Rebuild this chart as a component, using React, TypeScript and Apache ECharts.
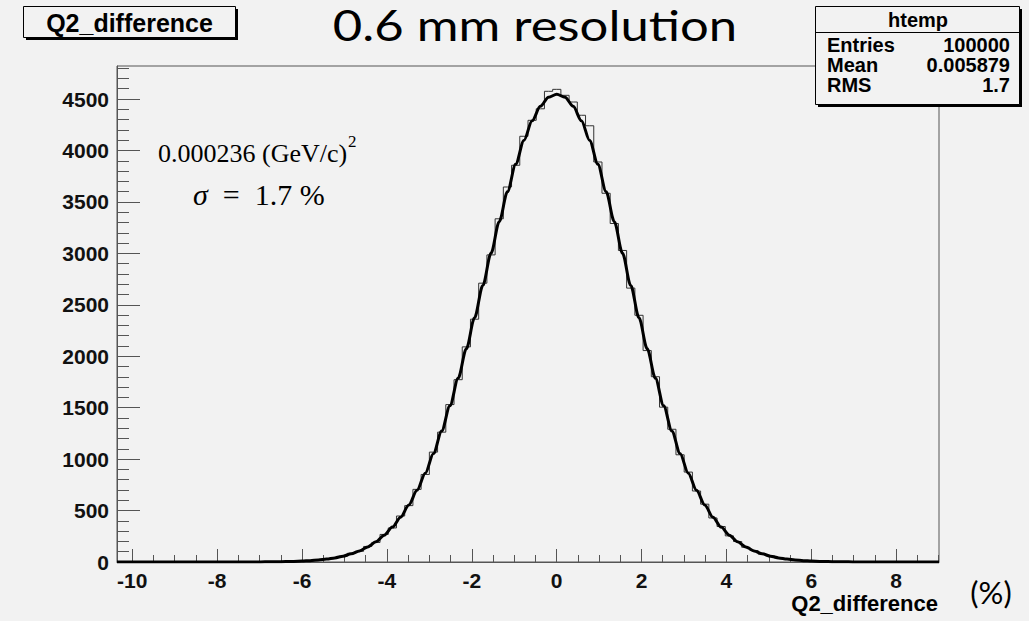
import React, { useEffect, useRef } from "react";
import * as echarts from "echarts";

// ---- data ----
const X_MIN = -10.36;
const X_MAX = 9.01;
const BIN_COUNT = 100;
const Y_MAX = 4821;

// histogram counts per bin (100 bins from X_MIN to X_MAX)
const histCounts = [
  0, 0, 0, 0, 0, 0, 0, 0, 0, 0, 0, 0, 0, 0, 0, 0, 0,
  0, 2, 1, 5, 7, 10, 12, 21, 26, 43,
  55, 84, 104, 151, 190, 268, 331, 447, 548, 706,
  851, 1068, 1262, 1530, 1772, 2091, 2360, 2710, 2985, 3336,
  3645, 3856, 4138, 4293, 4405, 4575,
  4594,
  4536, 4471, 4342, 4240, 3888, 3584, 3290, 3028, 2662, 2398,
  2055, 1801, 1505, 1290, 1042, 874, 690, 562, 428, 345,
  254, 199, 143, 111, 76, 59, 38, 29, 18, 14,
  8, 6, 3, 2, 1, 1,
  0, 0, 0, 0, 0, 0, 0, 0, 0, 0,
];

// fitted gaussian curve value at each bin centre
const fitValues = [
  0, 0, 0, 0, 0, 0, 0, 0, 0, 0, 0, 0, 0, 0, 0, 0, 0,
  1, 2, 3, 4, 6, 9, 13, 19, 28, 40,
  57, 79, 108, 147, 196, 260, 339, 436, 555, 697,
  863, 1055, 1274, 1518, 1785, 2073, 2375, 2687, 3001, 3308,
  3599, 3865, 4097, 4288, 4429, 4517,
  4546,
  4517, 4429, 4288, 4097, 3865, 3599, 3308, 3001, 2687, 2375,
  2073, 1785, 1518, 1274, 1055, 863, 697, 555, 436, 339,
  260, 196, 147, 108, 79, 57, 40, 28, 19, 13,
  9, 6, 4, 3, 2, 1,
  0, 0, 0, 0, 0, 0, 0, 0, 0, 0,
];

const xTickLabels = [-10, -8, -6, -4, -2, 0, 2, 4, 6, 8];
const xMinorTicks = [-9.5, -9, -8.5, -7.5, -7, -6.5, -5.5, -5, -4.5, -3.5, -3, -2.5, -1.5, -1, -0.5, 0.5, 1, 1.5, 2.5, 3, 3.5, 4.5, 5, 5.5, 6.5, 7, 7.5, 8.5, 9];
const yTickLabels = [0, 500, 1000, 1500, 2000, 2500, 3000, 3500, 4000, 4500];
const yMinorTicks = [100, 200, 300, 400, 600, 700, 800, 900, 1100, 1200, 1300, 1400, 1600, 1700, 1800, 1900, 2100, 2200, 2300, 2400, 2600, 2700, 2800, 2900, 3100, 3200, 3300, 3400, 3600, 3700, 3800, 3900, 4100, 4200, 4300, 4400, 4600, 4700, 4800];

const histTitle = "Q2_difference";
const statsTitle = "htemp";
const statsLabels = ["Entries", "Mean", "RMS"];
const statsValues = ["100000", "0.005879", "1.7"];
const headline = "0.6 mm resolution";
const noteLine1 = "0.000236 (GeV/c)";
const xAxisTitle = "Q2_difference";
const unitText = "(%)";

const SANS = "'Liberation Sans', Arial, sans-serif";
const SERIF = "'Liberation Serif', 'Times New Roman', serif";
const CAL = "Lato, 'Open Sans', sans-serif";
const BG = "#f2f2f2";
const AXIS = "#555555";

export default function App() {
  const ref = useRef<HTMLDivElement>(null);

  useEffect(() => {
    document.body.style.margin = "0";
    if (!ref.current) return;
    const chart = echarts.init(ref.current, null, { renderer: "svg" });

    const binWidth = (X_MAX - X_MIN) / BIN_COUNT;
    const centres = histCounts.map((_, i) => X_MIN + (i + 0.5) * binWidth);
    const histData = centres.map((x, i) => [x, histCounts[i]]);
    const fitData = [[X_MIN, 0], ...centres.map((x, i) => [x, fitValues[i]]), [X_MAX, 0]];

    const statsY = [45, 65, 85];

    chart.setOption({
      animation: false,
      backgroundColor: BG,
      grid: {
        left: 117,
        top: 66,
        right: 90,
        bottom: 59,
        show: true,
        borderColor: AXIS,
        borderWidth: 1,
        backgroundColor: "transparent",
      },
      xAxis: [
        {
          type: "value",
          position: "bottom",
          min: X_MIN,
          max: X_MAX,
          axisLine: { show: true, onZero: false, lineStyle: { color: AXIS, width: 1 } },
          axisTick: { show: true, inside: true, length: 13, customValues: xTickLabels, lineStyle: { color: AXIS } },
          axisLabel: {
            customValues: xTickLabels,
            formatter: (v: number) => String(v),
            fontFamily: SANS,
            fontWeight: "bold",
            fontSize: 21,
            color: "#111",
            margin: 8,
          },
          splitLine: { show: false },
        },
        {
          type: "value",
          position: "bottom",
          min: X_MIN,
          max: X_MAX,
          axisLine: { show: false, onZero: false },
          axisTick: { show: true, inside: true, length: 7, customValues: xMinorTicks, lineStyle: { color: AXIS } },
          axisLabel: { show: false },
          splitLine: { show: false },
        },
      ],
      yAxis: [
        {
          type: "value",
          position: "left",
          min: 0,
          max: Y_MAX,
          axisLine: { show: true, onZero: false, lineStyle: { color: AXIS, width: 1 } },
          axisTick: { show: true, inside: true, length: 23, customValues: yTickLabels, lineStyle: { color: AXIS } },
          axisLabel: {
            customValues: yTickLabels,
            formatter: (v: number) => String(v),
            fontFamily: SANS,
            fontWeight: "bold",
            fontSize: 21,
            color: "#111",
            margin: 8,
          },
          splitLine: { show: false },
        },
        {
          type: "value",
          position: "left",
          min: 0,
          max: Y_MAX,
          axisLine: { show: false, onZero: false },
          axisTick: { show: true, inside: true, length: 12, customValues: yMinorTicks, lineStyle: { color: AXIS } },
          axisLabel: { show: false },
          splitLine: { show: false },
        },
      ],
      series: [
        {
          name: "htemp",
          type: "line",
          xAxisIndex: 0,
          yAxisIndex: 0,
          step: "middle",
          data: histData,
          symbol: "none",
          lineStyle: { color: "#333", width: 1 },
          z: 2,
        },
        {
          name: "fit",
          type: "line",
          xAxisIndex: 0,
          yAxisIndex: 0,
          smooth: 0.3,
          smoothMonotone: "x",
          data: fitData,
          symbol: "none",
          lineStyle: { color: "#000", width: 3 },
          z: 3,
        },
      ],
      graphic: {
        elements: [
          // title box
          { type: "rect", z: 100, shape: { x: 26, y: 9, width: 212, height: 31 }, style: { fill: "#000" } },
          { type: "rect", z: 101, shape: { x: 23.5, y: 6.5, width: 212, height: 31 }, style: { fill: BG, stroke: "#000", lineWidth: 1 } },
          {
            type: "text", z: 102, x: 129.5, y: 22.5,
            style: { text: histTitle, fontFamily: SANS, fontWeight: "bold", fontSize: 25, fill: "#000", align: "center", verticalAlign: "middle" },
          },
          // stats box
          { type: "rect", z: 100, shape: { x: 818, y: 9, width: 204, height: 98 }, style: { fill: "#000" } },
          { type: "rect", z: 101, shape: { x: 815.5, y: 6.5, width: 204, height: 98 }, style: { fill: BG, stroke: "#000", lineWidth: 1 } },
          { type: "line", z: 102, shape: { x1: 815.5, y1: 32.5, x2: 1019.5, y2: 32.5 }, style: { stroke: "#000", lineWidth: 1 } },
          {
            type: "text", z: 102, x: 918, y: 20,
            style: { text: statsTitle, fontFamily: SANS, fontWeight: "bold", fontSize: 20, fill: "#000", align: "center", verticalAlign: "middle" },
          },
          ...statsLabels.map((t, i) => ({
            type: "text", z: 102, x: 827, y: statsY[i],
            style: { text: t, fontFamily: SANS, fontWeight: "bold", fontSize: 20, fill: "#000", align: "left", verticalAlign: "middle" },
          })),
          ...statsValues.map((t, i) => ({
            type: "text", z: 102, x: 1010, y: statsY[i],
            style: { text: t, fontFamily: SANS, fontWeight: "bold", fontSize: 20, fill: "#000", align: "right", verticalAlign: "middle" },
          })),
          // headline
          {
            type: "text", z: 102, x: 535, y: 25, scaleX: 1.21,
            style: { text: headline, fontFamily: CAL, fontSize: 42, fill: "#000", align: "center", verticalAlign: "middle" },
          },
          // annotations
          {
            type: "text", z: 102, x: 158, y: 153,
            style: { text: noteLine1, fontFamily: SERIF, fontSize: 26, fill: "#000", align: "left", verticalAlign: "middle" },
          },
          {
            type: "text", z: 102, x: 348, y: 141,
            style: { text: "2", fontFamily: SERIF, fontSize: 17, fill: "#000", align: "left", verticalAlign: "middle" },
          },
          {
            type: "text", z: 102, x: 193, y: 194,
            style: {
              text: "{s|σ}{n|  =  1.7 %}",
              fill: "#000", align: "left", verticalAlign: "middle",
              rich: {
                s: { fontFamily: SERIF, fontStyle: "italic", fontSize: 30, fill: "#000" },
                n: { fontFamily: SERIF, fontSize: 30, fill: "#000" },
              },
            },
          },
          // axis title and unit
          {
            type: "text", z: 102, x: 938, y: 603,
            style: { text: xAxisTitle, fontFamily: SANS, fontWeight: "bold", fontSize: 22, fill: "#000", align: "right", verticalAlign: "middle" },
          },
          {
            type: "text", z: 102, x: 991, y: 592,
            style: { text: unitText, fontFamily: CAL, fontSize: 31, fill: "#000", align: "center", verticalAlign: "middle" },
          },
        ],
      },
    });

    return () => chart.dispose();
  }, []);

  return <div ref={ref} style={{ width: 1029, height: 621, background: BG }} />;
}
